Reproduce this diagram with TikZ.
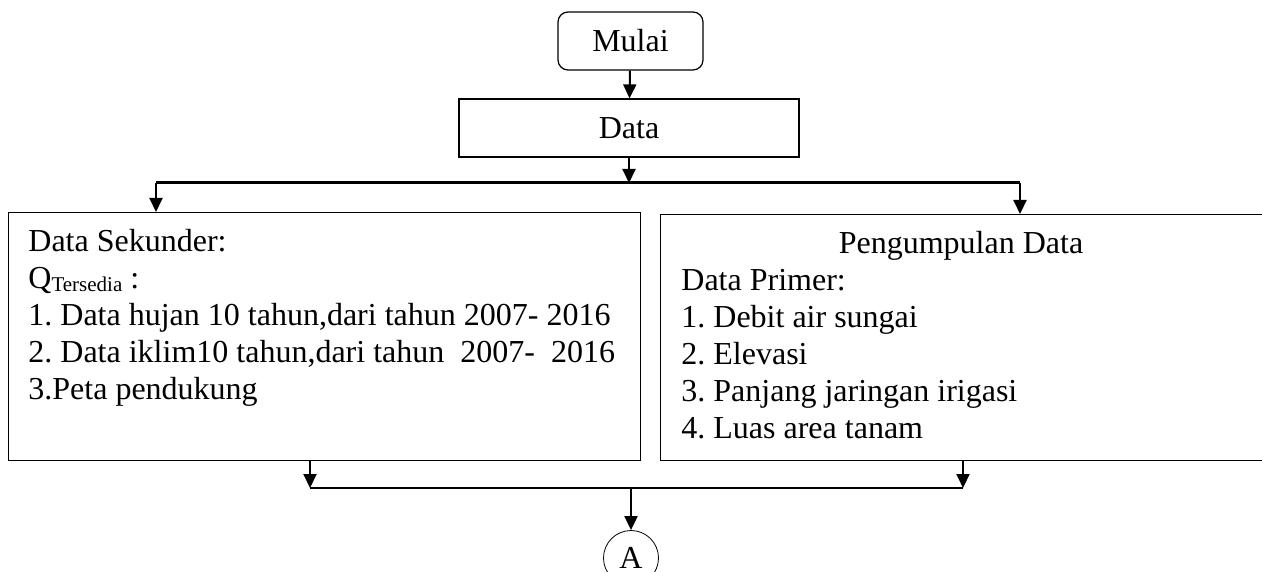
\documentclass[tikz,border=0pt]{standalone}
\usepackage{fontspec}
\setmainfont{Liberation Serif}
\usetikzlibrary{arrows.meta}
\frenchspacing
\tikzset{
  proses/.style={draw, line width=0.6pt, inner sep=0pt},
  teks/.style={inner sep=0pt, align=left, anchor=north west},
  panah/.style={-{Triangle[width=6.5pt,length=7pt]}, line width=1pt},
}
\begin{document}
\begin{tikzpicture}[x=0.5pt,y=-0.5pt,font=\fontsize{16}{18.5}\selectfont]
  \useasboundingbox (0,0) rectangle (1262,572);
  \clip (0,0) rectangle (1262,572);
  % Draw boxes
  \node (mulai) [proses, rounded corners=5pt, minimum width=72.5pt, minimum height=29pt] at (630.5,41) {Mulai};
  \node (data) [proses, minimum width=170pt, minimum height=29pt] at (629,128) {Data};
  \node (sekunder) [proses, anchor=north west, minimum width=316pt, minimum height=124pt] at (8,212) {};
  \node (primer) [proses, anchor=north west, minimum width=305pt, minimum height=123pt] at (660,214) {};
  \node (A) [draw, circle, line width=0.4pt, minimum size=27.5pt, inner sep=0pt] at (631,558) {A};
  % Draw texts
  \node (sekunderteks) [teks] at (28,229) {Data Sekunder:\\
    Q\raisebox{-1.5pt}{\fontsize{10.5}{12}\selectfont Tersedia} :\\
    1. Data hujan 10 tahun,dari tahun 2007- 2016\\
    2. Data iklim10 tahun,dari tahun~ 2007-~ 2016\\
    3.Peta pendukung};
  \node (judulprimer) [inner sep=0pt, anchor=base] at (961,253) {Pengumpulan Data};
  \node (primerteks) [teks] at (681,269) {Data Primer:\\
    1. Debit air sungai\\
    2. Elevasi\\
    3. Panjang jaringan irigasi\\
    4. Luas area tanam};
  % Draw connectors
  \coordinate (busL) at (156,183);
  \coordinate (busR) at (1020,183);
  \coordinate (botL) at (310,488);
  \coordinate (botR) at (963,488);
  \draw[panah] (mulai) -- (data);
  \draw[panah] (data) -- (data |- busL);
  \draw[line width=1.5pt] (busL) -- (busR);
  \draw[panah] (busL) -- (busL |- sekunder.north);
  \draw[panah] (busR) -- (busR |- primer.north);
  \draw[panah] (sekunder.south -| botL) -- (botL);
  \draw[panah] (primer.south -| botR) -- (botR);
  \draw[line width=1pt] (botL) -- (botR);
  \draw[panah] (A |- botL) -- (A);
\end{tikzpicture}
\end{document}
